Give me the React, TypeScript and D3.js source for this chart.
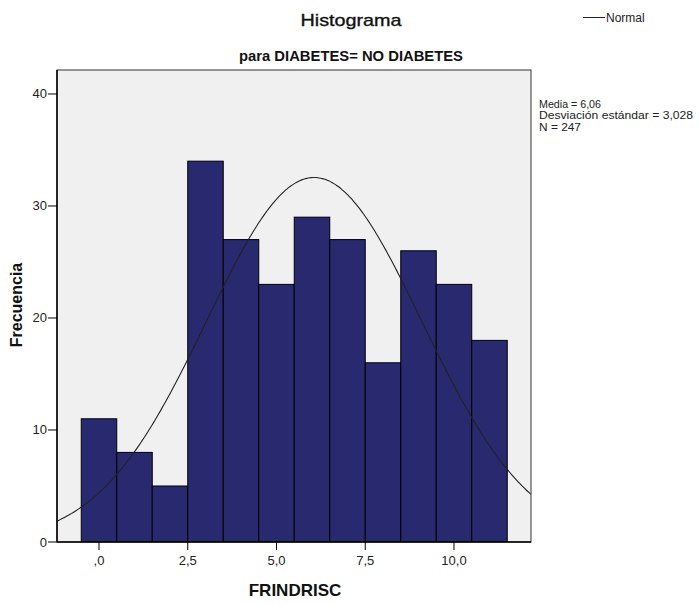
import React from "react";
import * as d3 from "d3";

const binCenters = [0, 1, 2, 3, 4, 5, 6, 7, 8, 9, 10, 11];
const frequencies = [11, 8, 5, 34, 27, 23, 29, 27, 16, 26, 23, 18];
const yTicks = [0, 10, 20, 30, 40];
const xTicks = [0, 2.5, 5, 7.5, 10];
const xTickLabels = [",0", "2,5", "5,0", "7,5", "10,0"];
const statsLines = ["Media = 6,06", "Desviación estándar = 3,028", "N = 247"];
const statsWidths = [62, 154, 42];
const mean = 6.06;
const sd = 3.028;
const n = 247;
const binWidth = 1;

const W = 699;
const H = 603;
const plot = { left: 57, right: 531, top: 70, bottom: 542 };

export default function App() {
  const x = d3.scaleLinear().domain([-1.183, 12.169]).range([plot.left, plot.right]);
  const y = d3.scaleLinear().domain([0, 42.14]).range([plot.bottom, plot.top]);

  const [x0, x1] = x.domain();
  const curvePts = d3.range(0, 301).map((i) => {
    const v = x0 + ((x1 - x0) * i) / 300;
    const z = (v - mean) / sd;
    const f = (n * binWidth) / (sd * Math.sqrt(2 * Math.PI)) * Math.exp(-0.5 * z * z);
    return [v, f] as [number, number];
  });
  const line = d3
    .line<[number, number]>()
    .x((d) => x(d[0]))
    .y((d) => y(d[1]))
    .curve(d3.curveBasis);

  const font = "Arial, 'Liberation Sans', sans-serif";

  return (
    <svg
      width={W}
      height={H}
      style={{ position: "absolute", left: 0, top: 0, background: "#fff" }}
      fontFamily={font}
    >
      <rect x={0} y={0} width={W} height={H} fill="#fff" />
      <text x={351} y={26} textAnchor="middle" fontSize={17} fill="#111" stroke="#111" strokeWidth={0.35} textLength={101} lengthAdjust="spacingAndGlyphs">
        Histograma
      </text>
      <text x={351} y={61} textAnchor="middle" fontSize={15} fontWeight="bold" fill="#111" textLength={224} lengthAdjust="spacingAndGlyphs">
        para DIABETES= NO DIABETES
      </text>

      <rect
        x={plot.left}
        y={plot.top}
        width={plot.right - plot.left}
        height={plot.bottom - plot.top}
        fill="#f0f0f0"
        stroke="#333"
        strokeWidth={1}
      />

      <g clipPath="url(#clipPlot)">
        {binCenters.map((c, i) => (
          <rect
            key={i}
            x={x(c - binWidth / 2)}
            y={y(frequencies[i])}
            width={x(c + binWidth / 2) - x(c - binWidth / 2)}
            height={y(0) - y(frequencies[i])}
            fill="#29296f"
            stroke="#000"
            strokeWidth={1}
          />
        ))}
        <path d={line(curvePts) || ""} fill="none" stroke="#222" strokeWidth={1.1} />
      </g>
      <defs>
        <clipPath id="clipPlot">
          <rect x={plot.left} y={plot.top} width={plot.right - plot.left} height={plot.bottom - plot.top} />
        </clipPath>
      </defs>

      <line x1={plot.left} x2={plot.left} y1={plot.top} y2={plot.bottom} stroke="#000" strokeWidth={1.5} />
      <line x1={plot.left} x2={plot.right} y1={plot.bottom} y2={plot.bottom} stroke="#000" strokeWidth={1.5} />

      {yTicks.map((t) => (
        <g key={t}>
          <line x1={plot.left - 9} x2={plot.left} y1={y(t)} y2={y(t)} stroke="#000" strokeWidth={1} />
          <text x={plot.left - 10} y={y(t) + 4.5} textAnchor="end" fontSize={13} fill="#222">
            {t}
          </text>
        </g>
      ))}
      {xTicks.map((t, i) => (
        <g key={t}>
          <line x1={x(t)} x2={x(t)} y1={plot.bottom} y2={plot.bottom + 8} stroke="#000" strokeWidth={1} />
          <text x={x(t)} y={565} textAnchor="middle" fontSize={13} fill="#222">
            {xTickLabels[i]}
          </text>
        </g>
      ))}

      <text
        transform={`translate(22,305) rotate(-90)`}
        textAnchor="middle"
        fontSize={16}
        fontWeight="bold"
        fill="#111"
      >
        Frecuencia
      </text>
      <text x={295} y={596} textAnchor="middle" fontSize={17} fontWeight="bold" fill="#111">
        FRINDRISC
      </text>

      <line x1={583} x2={605} y1={17.5} y2={17.5} stroke="#222" strokeWidth={1} />
      <text x={606} y={21.5} fontSize={12} fill="#222">
        Normal
      </text>

      {statsLines.map((s, i) => (
        <text
          key={i}
          x={539}
          y={108 + i * 11.4}
          fontSize={10}
          fill="#222"
          textLength={statsWidths[i]}
          lengthAdjust="spacingAndGlyphs"
        >
          {s}
        </text>
      ))}
    </svg>
  );
}
